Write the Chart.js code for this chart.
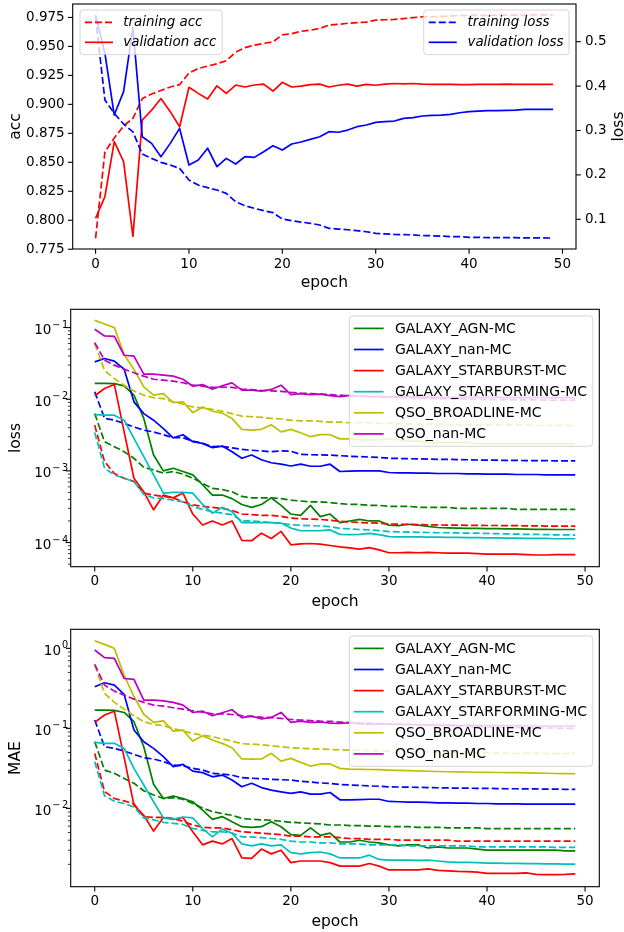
<!DOCTYPE html>
<html>
<head>
<meta charset="utf-8">
<title>Training curves</title>
<script src="https://cdn.jsdelivr.net/npm/chart.js@4.4.1/dist/chart.umd.min.js"></script>
<style>
  html, body { margin: 0; padding: 0; background: #fff; }
  #wrap { position: relative; width: 624px; height: 932px; }
  canvas { position: absolute; left: 0; }
</style>
</head>
<body>
<div id="wrap">
  <canvas id="accPlot" width="624" height="300" style="top:0px"></canvas>
  <canvas id="lossPlot" width="624" height="320" style="top:300px"></canvas>
  <canvas id="maePlot" width="624" height="312" style="top:620px"></canvas>
</div>
<script>
// ---- data -------------------------------------------------------------
const epochs = [0, 1, 2, 3, 4, 5, 6, 7, 8, 9, 10, 11, 12, 13, 14, 15, 16, 17, 18, 19,
  20, 21, 22, 23, 24, 25, 26, 27, 28, 29, 30, 31, 32, 33, 34, 35, 36, 37, 38, 39,
  40, 41, 42, 43, 44, 45, 46, 47, 48, 49];

const epochTicks = [0, 10, 20, 30, 40, 50];
const accTicks = [0.775, 0.8, 0.825, 0.85, 0.875, 0.9, 0.925, 0.95, 0.975];
const lossTicks = [0.1, 0.2, 0.3, 0.4, 0.5];
const lossLogTicks = [1e-4, 1e-3, 1e-2, 1e-1];
const maeLogTicks = [1e-2, 1e-1, 1];

// overall accuracy / loss
const trainAcc = [0.7845, 0.859, 0.871, 0.8813, 0.888, 0.905, 0.909, 0.912, 0.915, 0.917, 0.927, 0.931, 0.933, 0.935, 0.9377, 0.945, 0.949, 0.951, 0.9526, 0.954, 0.960, 0.961, 0.963, 0.964, 0.9655, 0.9684, 0.969, 0.970, 0.9705, 0.971, 0.9727, 0.973, 0.9733, 0.974, 0.9748, 0.9756, 0.9756, 0.976, 0.9763, 0.9765, 0.9767, 0.9767, 0.9768, 0.9769, 0.977, 0.977, 0.9771, 0.9772, 0.9772, 0.9773];
const valAcc = [0.8017, 0.8204, 0.8678, 0.8506, 0.786, 0.8865, 0.895, 0.905, 0.8937, 0.8807, 0.9147, 0.9095, 0.9046, 0.916, 0.9095, 0.9167, 0.915, 0.9167, 0.9175, 0.9115, 0.919, 0.915, 0.9158, 0.917, 0.9175, 0.915, 0.9165, 0.9175, 0.9158, 0.9172, 0.9165, 0.9175, 0.918, 0.9177, 0.918, 0.9175, 0.9172, 0.9172, 0.9172, 0.917, 0.917, 0.9172, 0.9172, 0.9172, 0.9174, 0.9172, 0.9172, 0.9172, 0.9172, 0.9172];
const trainLoss = [0.555, 0.3686, 0.3386, 0.3146, 0.297, 0.247, 0.2372, 0.2282, 0.2222, 0.2147, 0.1884, 0.177, 0.1712, 0.166, 0.1584, 0.1396, 0.1306, 0.1246, 0.1194, 0.1149, 0.1006, 0.0968, 0.0938, 0.091, 0.0871, 0.0796, 0.078, 0.0765, 0.0743, 0.072, 0.0683, 0.067, 0.066, 0.0655, 0.065, 0.063, 0.063, 0.0622, 0.061, 0.061, 0.0593, 0.0593, 0.0588, 0.0588, 0.0585, 0.0585, 0.058, 0.058, 0.058, 0.0578];
const valLoss = [0.56, 0.4737, 0.3348, 0.3874, 0.5323, 0.286, 0.271, 0.241, 0.271, 0.3048, 0.2222, 0.2335, 0.26, 0.2185, 0.2372, 0.2245, 0.241, 0.2395, 0.2523, 0.2658, 0.256, 0.2695, 0.274, 0.28, 0.286, 0.2973, 0.296, 0.301, 0.3086, 0.3123, 0.3183, 0.3198, 0.3213, 0.3273, 0.3288, 0.3326, 0.334, 0.3348, 0.3363, 0.34, 0.3423, 0.3438, 0.3446, 0.3446, 0.3453, 0.3461, 0.3476, 0.3476, 0.3476, 0.3476];

const classNames = ['GALAXY_AGN-MC', 'GALAXY_nan-MC', 'GALAXY_STARBURST-MC',
  'GALAXY_STARFORMING-MC', 'QSO_BROADLINE-MC', 'QSO_nan-MC'];

// per-class loss (val = solid, train = dashed)
const lossAgnVal = [0.0166, 0.0166, 0.0165, 0.0154, 0.0114, 0.0054, 0.00167, 0.00100, 0.00109, 0.00098, 0.00088, 0.00064, 0.00046, 0.00046, 0.00041, 0.00034, 0.00031, 0.00034, 0.00042, 0.00033, 0.00025, 0.00024, 0.00033, 0.00023, 0.00025, 0.00019, 0.00020, 0.00021, 0.00020, 0.00020, 0.000175, 0.000172, 0.00018, 0.000175, 0.000168, 0.000162, 0.00016, 0.000159, 0.000158, 0.000158, 0.000156, 0.000156, 0.000155, 0.000155, 0.000154, 0.000153, 0.000153, 0.000152, 0.000152, 0.000152];
const lossAgnTrain = [0.0063, 0.00255, 0.00218, 0.00185, 0.0015, 0.00112, 0.00103, 0.00093, 0.00098, 0.0009, 0.00079, 0.00067, 0.00057, 0.00055, 0.00051, 0.00044, 0.00042, 0.00042, 0.00042, 0.00041, 0.00039, 0.00038, 0.00037, 0.00037, 0.00036, 0.00035, 0.00034, 0.00034, 0.00033, 0.00033, 0.00032, 0.00032, 0.00032, 0.00031, 0.00031, 0.00031, 0.00031, 0.00030, 0.00030, 0.00030, 0.00030, 0.00030, 0.00030, 0.00029, 0.00029, 0.00029, 0.00029, 0.00029, 0.00029, 0.00029];
const lossNanVal = [0.0332, 0.037, 0.034, 0.0262, 0.0092, 0.0063, 0.0051, 0.0039, 0.0029, 0.0032, 0.00255, 0.00242, 0.00211, 0.00222, 0.00185, 0.0015, 0.00167, 0.00143, 0.0013, 0.00124, 0.00117, 0.00124, 0.00116, 0.00116, 0.00124, 0.00098, 0.00099, 0.001, 0.001, 0.001, 0.00095, 0.00094, 0.00094, 0.00093, 0.00093, 0.00092, 0.00092, 0.00092, 0.00091, 0.00091, 0.0009, 0.0009, 0.0009, 0.00089, 0.00089, 0.00089, 0.00088, 0.00088, 0.00088, 0.00088];
const lossNanTrain = [0.0127, 0.0054, 0.0051, 0.0046, 0.0041, 0.0037, 0.0035, 0.0032, 0.0029, 0.0029, 0.00261, 0.00242, 0.00218, 0.0022, 0.0021, 0.0020, 0.00194, 0.0019, 0.00185, 0.0019, 0.00188, 0.0017, 0.00168, 0.00167, 0.00166, 0.00163, 0.00160, 0.00158, 0.00156, 0.00154, 0.00150, 0.00149, 0.00148, 0.00147, 0.00146, 0.00145, 0.00145, 0.00144, 0.00143, 0.00142, 0.00141, 0.00141, 0.0014, 0.0014, 0.00139, 0.00139, 0.00139, 0.00138, 0.00138, 0.00138];
const lossBurstVal = [0.0112, 0.0141, 0.0161, 0.0035, 0.00079, 0.00051, 0.000286, 0.00046, 0.00042, 0.00049, 0.00025, 0.000176, 0.0002, 0.000176, 0.0002, 0.000107, 0.000106, 0.000135, 0.000114, 0.000143, 0.000093, 0.000096, 0.000097, 0.000095, 0.000091, 0.000087, 0.000084, 0.000081, 0.000085, 0.000079, 0.000072, 0.000072, 0.000073, 0.000072, 0.000073, 0.000072, 0.000071, 0.000071, 0.000071, 0.00007, 0.000069, 0.000069, 0.000069, 0.000069, 0.000068, 0.000067, 0.000067, 0.000068, 0.000068, 0.000068];
const lossBurstTrain = [0.00435, 0.00135, 0.00092, 0.00079, 0.00071, 0.00049, 0.00046, 0.00044, 0.00042, 0.00037, 0.000335, 0.00032, 0.00031, 0.0003, 0.00028, 0.00025, 0.000245, 0.00024, 0.00024, 0.000232, 0.000219, 0.000215, 0.000212, 0.00021, 0.000205, 0.000198, 0.000194, 0.00019, 0.000188, 0.000186, 0.000182, 0.00018, 0.000179, 0.000178, 0.000177, 0.000176, 0.000175, 0.000175, 0.000174, 0.000174, 0.000173, 0.000173, 0.000172, 0.000172, 0.000171, 0.000171, 0.00017, 0.00017, 0.00017, 0.00017];
const lossFormVal = [0.0061, 0.006, 0.006, 0.0051, 0.00284, 0.00158, 0.00088, 0.00049, 0.0005, 0.0005, 0.00049, 0.00034, 0.000257, 0.00031, 0.00027, 0.00019, 0.00019, 0.00019, 0.00019, 0.000187, 0.000159, 0.000146, 0.000146, 0.000147, 0.00015, 0.00013, 0.000129, 0.00013, 0.000134, 0.000129, 0.000121, 0.00012, 0.00012, 0.00012, 0.000119, 0.000119, 0.000118, 0.000118, 0.000117, 0.000117, 0.000116, 0.000116, 0.000115, 0.000115, 0.000114, 0.000114, 0.000114, 0.000113, 0.000113, 0.000113];
const lossFormTrain = [0.00344, 0.00109, 0.00088, 0.00079, 0.00071, 0.00047, 0.00042, 0.00041, 0.00039, 0.00037, 0.00032, 0.00029, 0.00027, 0.000257, 0.000245, 0.0002, 0.0002, 0.000195, 0.00019, 0.000185, 0.000177, 0.000174, 0.000172, 0.00017, 0.000167, 0.000158, 0.000155, 0.000152, 0.00015, 0.000147, 0.000142, 0.000141, 0.00014, 0.000139, 0.000138, 0.000137, 0.000137, 0.000136, 0.000135, 0.000135, 0.000134, 0.000133, 0.000132, 0.000131, 0.00013, 0.00013, 0.000129, 0.000128, 0.000128, 0.000127];
const lossBroadVal = [0.126, 0.112, 0.1, 0.042, 0.026, 0.0149, 0.0114, 0.012, 0.009, 0.0092, 0.0065, 0.0078, 0.0068, 0.0064, 0.0054, 0.0038, 0.0037, 0.0038, 0.0044, 0.0035, 0.0038, 0.0034, 0.0030, 0.0032, 0.0032, 0.0028, 0.0028, 0.0027, 0.0027, 0.0027, 0.0028, 0.0027, 0.0026, 0.0026, 0.0025, 0.0025, 0.0025, 0.0025, 0.0025, 0.0024, 0.0024, 0.0024, 0.0024, 0.0024, 0.0024, 0.0024, 0.0024, 0.0024, 0.0024, 0.0024];
const lossBroadTrain = [0.0598, 0.0254, 0.0194, 0.0157, 0.013, 0.0114, 0.0105, 0.0102, 0.0092, 0.0085, 0.0078, 0.0076, 0.0072, 0.0068, 0.0063, 0.0058, 0.0057, 0.0056, 0.0054, 0.0053, 0.0051, 0.0050, 0.0050, 0.0049, 0.0048, 0.0048, 0.0047, 0.0047, 0.0047, 0.0046, 0.0046, 0.0046, 0.0045, 0.0045, 0.0045, 0.0045, 0.0044, 0.0044, 0.0044, 0.0044, 0.0044, 0.0044, 0.0044, 0.0044, 0.0044, 0.0043, 0.0043, 0.0043, 0.0043, 0.0043];
const lossQsoVal = [0.0947, 0.0764, 0.0755, 0.0411, 0.040, 0.0224, 0.0224, 0.0217, 0.021, 0.019, 0.0152, 0.016, 0.0138, 0.0154, 0.0169, 0.0134, 0.0134, 0.013, 0.0137, 0.0157, 0.0116, 0.012, 0.0116, 0.0118, 0.0112, 0.0109, 0.0113, 0.011, 0.0109, 0.011, 0.0108, 0.0109, 0.0108, 0.0107, 0.0107, 0.0106, 0.0106, 0.0106, 0.0106, 0.0106, 0.0106, 0.0106, 0.0105, 0.0105, 0.0105, 0.0105, 0.0105, 0.0105, 0.0105, 0.0105];
const lossQsoTrain = [0.0617, 0.0351, 0.0299, 0.0263, 0.0234, 0.021, 0.019, 0.0185, 0.0179, 0.017, 0.0157, 0.0152, 0.0146, 0.0148, 0.0146, 0.0139, 0.0136, 0.0133, 0.0131, 0.0129, 0.0125, 0.0122, 0.012, 0.0118, 0.0116, 0.0114, 0.0112, 0.0111, 0.011, 0.0108, 0.0107, 0.0106, 0.0105, 0.0104, 0.0103, 0.0102, 0.0101, 0.0101, 0.01, 0.01, 0.0099, 0.0099, 0.0099, 0.0098, 0.0098, 0.0098, 0.0097, 0.0097, 0.0097, 0.0097];

// per-class MAE
const maeAgnVal = [0.169, 0.169, 0.168, 0.158, 0.121, 0.059, 0.020, 0.0133, 0.0143, 0.0133, 0.0121, 0.0095, 0.0073, 0.0079, 0.0068, 0.0059, 0.0058, 0.0059, 0.0068, 0.0059, 0.0047, 0.0046, 0.0057, 0.0046, 0.0049, 0.0038, 0.0038, 0.0040, 0.0038, 0.0037, 0.0035, 0.0034, 0.0035, 0.0035, 0.0032, 0.0033, 0.0032, 0.0032, 0.0032, 0.0031, 0.0030, 0.0030, 0.0030, 0.0030, 0.0030, 0.0030, 0.0030, 0.0030, 0.00295, 0.00295];
const maeAgnTrain = [0.068, 0.0301, 0.0274, 0.0237, 0.0206, 0.0166, 0.0147, 0.0133, 0.0136, 0.013, 0.0115, 0.0101, 0.0091, 0.0086, 0.0082, 0.0075, 0.0073, 0.0072, 0.0071, 0.0069, 0.0067, 0.0066, 0.0065, 0.0064, 0.0062, 0.0062, 0.0061, 0.0061, 0.0060, 0.0060, 0.0059, 0.0059, 0.0059, 0.0058, 0.0058, 0.0058, 0.0057, 0.0057, 0.0057, 0.0057, 0.0056, 0.0056, 0.0056, 0.0056, 0.0056, 0.0056, 0.0056, 0.0056, 0.0056, 0.0056];
const maeNanVal = [0.331, 0.372, 0.347, 0.266, 0.0953, 0.068, 0.0562, 0.0443, 0.0332, 0.0355, 0.0292, 0.028, 0.0248, 0.0261, 0.0226, 0.0186, 0.0206, 0.0182, 0.0169, 0.0161, 0.0154, 0.0161, 0.0151, 0.0151, 0.0158, 0.0128, 0.0128, 0.0129, 0.013, 0.013, 0.0122, 0.0121, 0.012, 0.012, 0.0119, 0.0117, 0.0117, 0.0116, 0.0116, 0.0115, 0.0115, 0.0114, 0.0114, 0.0114, 0.0113, 0.0113, 0.0113, 0.0113, 0.0113, 0.0113];
const maeNanTrain = [0.127, 0.059, 0.0562, 0.052, 0.0474, 0.043, 0.0414, 0.0384, 0.0348, 0.0341, 0.0316, 0.0302, 0.0274, 0.0268, 0.026, 0.0242, 0.0238, 0.0235, 0.0231, 0.0228, 0.0226, 0.0218, 0.0214, 0.0208, 0.0205, 0.0199, 0.0196, 0.0194, 0.0191, 0.0189, 0.0186, 0.0185, 0.0184, 0.0183, 0.0182, 0.0181, 0.018, 0.0179, 0.0179, 0.0178, 0.0178, 0.0177, 0.0176, 0.0176, 0.0175, 0.0175, 0.0174, 0.0174, 0.0173, 0.0173];
const maeBurstVal = [0.119, 0.147, 0.164, 0.043, 0.011, 0.0082, 0.0052, 0.0077, 0.0073, 0.0077, 0.0051, 0.0035, 0.0039, 0.0036, 0.0042, 0.0024, 0.00237, 0.0031, 0.0027, 0.003, 0.0021, 0.0022, 0.0022, 0.0022, 0.0021, 0.0019, 0.0019, 0.0019, 0.00205, 0.0019, 0.0017, 0.0017, 0.0017, 0.0017, 0.00175, 0.00168, 0.00166, 0.00163, 0.00162, 0.0016, 0.00154, 0.00154, 0.00154, 0.00154, 0.00156, 0.0015, 0.00149, 0.00149, 0.0015, 0.00152];
const maeBurstTrain = [0.0487, 0.0162, 0.0133, 0.0124, 0.0114, 0.0079, 0.0077, 0.0077, 0.0075, 0.0069, 0.0062, 0.0058, 0.0057, 0.0057, 0.0054, 0.0051, 0.005, 0.0049, 0.0048, 0.0047, 0.0045, 0.0045, 0.0044, 0.0044, 0.0044, 0.0043, 0.0042, 0.0042, 0.0041, 0.0041, 0.0041, 0.004, 0.004, 0.004, 0.004, 0.004, 0.004, 0.0039, 0.0039, 0.0039, 0.0039, 0.0039, 0.0039, 0.0039, 0.0039, 0.0039, 0.0039, 0.0039, 0.0039, 0.0039];
const maeFormVal = [0.0668, 0.065, 0.065, 0.0562, 0.0316, 0.0196, 0.0121, 0.0076, 0.0073, 0.0078, 0.0076, 0.0056, 0.0044, 0.0055, 0.0049, 0.0036, 0.0034, 0.0036, 0.0034, 0.0035, 0.0028, 0.0027, 0.0028, 0.00285, 0.0027, 0.0024, 0.0024, 0.0024, 0.0026, 0.0023, 0.00226, 0.00226, 0.00226, 0.00224, 0.00226, 0.0022, 0.00215, 0.00212, 0.00212, 0.0021, 0.00207, 0.00207, 0.00206, 0.00205, 0.00204, 0.00204, 0.00203, 0.00202, 0.00201, 0.00201];
const maeFormTrain = [0.0383, 0.0144, 0.0123, 0.0115, 0.0104, 0.0076, 0.0072, 0.0067, 0.0065, 0.0063, 0.0056, 0.0053, 0.0051, 0.0051, 0.0049, 0.0044, 0.0044, 0.0043, 0.0042, 0.0041, 0.0039, 0.0038, 0.0038, 0.0037, 0.0037, 0.0036, 0.0036, 0.0036, 0.0035, 0.0035, 0.0035, 0.0035, 0.0034, 0.0034, 0.0034, 0.0034, 0.0034, 0.0034, 0.0034, 0.0033, 0.0033, 0.0033, 0.0033, 0.0033, 0.0033, 0.0033, 0.0033, 0.00325, 0.00325, 0.00325];
const maeBroadVal = [1.245, 1.12, 1.0, 0.46, 0.25, 0.15, 0.119, 0.124, 0.0925, 0.095, 0.0694, 0.081, 0.0715, 0.0649, 0.0573, 0.0414, 0.0412, 0.0414, 0.0486, 0.039, 0.0422, 0.0376, 0.0338, 0.0359, 0.0359, 0.0316, 0.031, 0.0308, 0.0306, 0.0305, 0.0301, 0.0298, 0.0296, 0.0294, 0.0291, 0.0289, 0.0287, 0.0286, 0.0285, 0.0283, 0.0282, 0.0281, 0.028, 0.0279, 0.0278, 0.0276, 0.0275, 0.0273, 0.0272, 0.0271];
const maeBroadTrain = [0.618, 0.274, 0.211, 0.174, 0.144, 0.121, 0.112, 0.108, 0.1, 0.0925, 0.0866, 0.082, 0.0786, 0.0738, 0.0694, 0.0643, 0.0635, 0.0625, 0.0607, 0.059, 0.0573, 0.0565, 0.0557, 0.055, 0.0545, 0.054, 0.0535, 0.053, 0.0527, 0.0523, 0.052, 0.0516, 0.0513, 0.051, 0.0507, 0.0505, 0.0502, 0.05, 0.0498, 0.0495, 0.0493, 0.0491, 0.049, 0.0488, 0.0487, 0.0486, 0.0485, 0.0484, 0.0483, 0.0482];
const maeQsoVal = [0.953, 0.764, 0.75, 0.42, 0.41, 0.226, 0.226, 0.22, 0.211, 0.195, 0.158, 0.164, 0.144, 0.157, 0.171, 0.136, 0.142, 0.131, 0.137, 0.158, 0.119, 0.123, 0.119, 0.12, 0.116, 0.115, 0.118, 0.114, 0.113, 0.114, 0.112, 0.112, 0.111, 0.111, 0.11, 0.11, 0.11, 0.109, 0.109, 0.109, 0.108, 0.108, 0.108, 0.108, 0.107, 0.107, 0.107, 0.107, 0.107, 0.107];
const maeQsoTrain = [0.63, 0.347, 0.292, 0.26, 0.232, 0.211, 0.195, 0.19, 0.181, 0.174, 0.166, 0.159, 0.152, 0.152, 0.149, 0.144, 0.141, 0.138, 0.136, 0.133, 0.129, 0.127, 0.125, 0.123, 0.122, 0.12, 0.118, 0.117, 0.116, 0.115, 0.114, 0.113, 0.112, 0.111, 0.11, 0.109, 0.108, 0.107, 0.106, 0.105, 0.104, 0.104, 0.103, 0.103, 0.102, 0.102, 0.101, 0.101, 0.1, 0.1];

const lossVal = [lossAgnVal, lossNanVal, lossBurstVal, lossFormVal, lossBroadVal, lossQsoVal];
const lossTrain = [lossAgnTrain, lossNanTrain, lossBurstTrain, lossFormTrain, lossBroadTrain, lossQsoTrain];
const maeVal = [maeAgnVal, maeNanVal, maeBurstVal, maeFormVal, maeBroadVal, maeQsoVal];
const maeTrain = [maeAgnTrain, maeNanTrain, maeBurstTrain, maeFormTrain, maeBroadTrain, maeQsoTrain];

// ---- styling ------------------------------------------------------------
const classColors = ['#008000', '#0000ff', '#ff0000', '#00bfbf', '#bfbf00', '#bf00bf'];
const FONT = '"DejaVu Sans", sans-serif';
const TICK_SIZE = 13.5;
const TITLE_SIZE = 15.5;
const LINE_W = 1.7;
const DASH = [7, 3];

Chart.defaults.font.family = FONT;
Chart.defaults.color = '#000';

function points(values) {
  return epochs.map((e, i) => ({ x: e, y: values[i] }));
}

function lineSet(label, values, color, dashed, axis) {
  return {
    label: label,
    data: points(values),
    borderColor: color,
    backgroundColor: color,
    borderWidth: LINE_W,
    borderDash: dashed ? DASH : [],
    borderJoinStyle: 'round',
    pointRadius: 0,
    pointHoverRadius: 0,
    tension: 0,
    fill: false,
    yAxisID: axis || 'y'
  };
}

// force every axis box to a fixed thickness so the plot areas line up
function fixSize(size) {
  return function (scale) {
    if (scale.isHorizontal()) scale.height = size; else scale.width = size;
    scale.paddingTop = 0; scale.paddingBottom = 0;
    scale.paddingLeft = 0; scale.paddingRight = 0;
  };
}

function logMinors(majors, min, max) {
  const out = [];
  const decades = [majors[0] / 10].concat(majors);
  decades.forEach(d => {
    for (let k = 2; k <= 9; k++) {
      const v = d * k;
      if (v >= min && v <= max) out.push(v);
    }
  });
  return out;
}

function setTicks(majors, minors) {
  return function (scale) {
    const list = majors.map(v => ({ value: v, major: true }));
    (minors || []).forEach(v => list.push({ value: v, major: false }));
    list.sort((a, b) => a.value - b.value);
    scale.ticks = list;
  };
}

const hiddenGrid = { display: true, drawOnChartArea: false, drawTicks: true, tickLength: 5, tickColor: 'rgba(0,0,0,0)' };

function epochAxis(height) {
  return {
    type: 'linear', bounds: 'data', min: -2.45, max: 51.45,
    afterBuildTicks: setTicks(epochTicks),
    afterFit: fixSize(height),
    grid: hiddenGrid, border: { display: false },
    ticks: { font: { size: TICK_SIZE }, color: '#000', autoSkip: false, maxRotation: 0, padding: 2,
      callback: v => String(v) }
  };
}

function logAxis(majors, min, max) {
  return {
    type: 'logarithmic', position: 'left', bounds: 'data', min: min, max: max,
    afterBuildTicks: setTicks(majors, logMinors(majors, min, max)),
    afterFit: fixSize(70.7),
    grid: hiddenGrid, border: { display: false },
    ticks: { display: false }
  };
}

// frame, tick marks, power-of-ten labels and axis titles
const axisDecor = {
  id: 'axisDecor',
  afterDraw(chart, args, opts) {
    const ctx = chart.ctx;
    const a = chart.chartArea;
    ctx.save();
    ctx.strokeStyle = '#000';
    Object.values(chart.scales).forEach(scale => {
      scale.ticks.forEach(t => {
        const p = scale.getPixelForValue(t.value);
        const len = t.major ? 4.8 : 2.8;
        ctx.lineWidth = t.major ? 1.1 : 0.8;
        ctx.beginPath();
        if (scale.isHorizontal()) {
          ctx.moveTo(p, a.bottom); ctx.lineTo(p, a.bottom + len);
        } else if (scale.position === 'left') {
          ctx.moveTo(a.left, p); ctx.lineTo(a.left - len, p);
        } else {
          ctx.moveTo(a.right, p); ctx.lineTo(a.right + len, p);
        }
        ctx.stroke();
      });
    });
    ctx.lineWidth = 1.1;
    ctx.strokeRect(a.left, a.top, a.right - a.left, a.bottom - a.top);

    if (opts.powerAxis) {
      // "10" followed by a raised, smaller exponent
      const scale = chart.scales[opts.powerAxis];
      const supSize = TICK_SIZE * 0.72;
      ctx.fillStyle = '#000';
      ctx.textBaseline = 'alphabetic';
      ctx.textAlign = 'left';
      scale.ticks.filter(t => t.major).forEach(t => {
        const p = scale.getPixelForValue(t.value);
        const exp = Math.round(Math.log10(t.value));
        const digits = String(Math.abs(exp));
        ctx.font = TICK_SIZE + 'px ' + FONT;
        const wb = ctx.measureText('10').width;
        ctx.font = supSize + 'px ' + FONT;
        const wm = exp < 0 ? ctx.measureText('\u2212').width + 1.5 : 0;
        const wd = ctx.measureText(digits).width;
        const right = a.left - 2.5;
        const base = p + 6.5;
        let x = right - wd - wm - 1 - wb;
        ctx.font = TICK_SIZE + 'px ' + FONT;
        ctx.fillText('10', x, base);
        x += wb + 1;
        ctx.font = supSize + 'px ' + FONT;
        if (exp < 0) {
          ctx.fillText('\u2212', x, base - 6.5);
          x += wm;
        }
        ctx.fillText(digits, x, base - 6.5);
      });
    }

    ctx.fillStyle = '#000';
    ctx.font = TITLE_SIZE + 'px ' + FONT;
    ctx.textAlign = 'center';
    ctx.textBaseline = 'alphabetic';
    (opts.titles || []).forEach(t => {
      if (t.side === 'bottom') {
        ctx.fillText(t.text, (a.left + a.right) / 2, t.at);
      } else {
        ctx.save();
        ctx.translate(t.at, (a.top + a.bottom) / 2);
        ctx.rotate(-Math.PI / 2);
        ctx.fillText(t.text, 0, 0);
        ctx.restore();
      }
    });
    ctx.restore();
  }
};

// framed legend boxes placed inside the plot area
const boxLegend = {
  id: 'boxLegend',
  afterDraw(chart, args, opts) {
    const ctx = chart.ctx;
    const a = chart.chartArea;
    (opts.boxes || []).forEach(box => {
      ctx.save();
      ctx.font = (box.italic ? 'italic ' : '') + box.size + 'px ' + FONT;
      const sets = box.items.map(i => chart.data.datasets[i]);
      const textW = Math.max.apply(null, sets.map(d => ctx.measureText(d.label).width));
      const w = box.textX + textW + box.padRight;
      const h = box.rowTop * 2 + box.rowGap * (sets.length - 1);
      const x = box.side === 'left' ? a.left + box.inset : a.right - box.inset - w;
      const y = a.top + box.top;
      ctx.beginPath();
      ctx.roundRect(x, y, w, h, 3);
      ctx.fillStyle = 'rgba(255,255,255,0.8)';
      ctx.fill();
      ctx.strokeStyle = 'rgba(204,204,204,0.8)';
      ctx.lineWidth = 1;
      ctx.stroke();
      sets.forEach((d, k) => {
        const cy = y + box.rowTop + k * box.rowGap;
        ctx.strokeStyle = d.borderColor;
        ctx.lineWidth = d.borderWidth;
        ctx.setLineDash(d.borderDash);
        ctx.beginPath();
        ctx.moveTo(x + box.lineX0, cy);
        ctx.lineTo(x + box.lineX1, cy);
        ctx.stroke();
        ctx.setLineDash([]);
        ctx.fillStyle = '#000';
        ctx.textAlign = 'left';
        ctx.textBaseline = 'middle';
        ctx.fillText(d.label, x + box.textX, cy + 0.5);
      });
      ctx.restore();
    });
  }
};

function withOrder(sets) {
  // first dataset ends up at the bottom of the stack
  sets.forEach((d, i) => { d.order = sets.length - i; });
  return sets;
}

// ---- accuracy / loss ----------------------------------------------------
new Chart(document.getElementById('accPlot'), {
  type: 'line',
  data: {
    datasets: withOrder([
      lineSet('training acc', trainAcc, '#ff0000', true, 'y'),
      lineSet('validation acc', valAcc, '#ff0000', false, 'y'),
      lineSet('training loss', trainLoss, '#0000ff', true, 'y2'),
      lineSet('validation loss', valLoss, '#0000ff', false, 'y2')
    ])
  },
  options: {
    responsive: false, animation: false, events: [],
    layout: { padding: { top: 4, left: 0, right: 0, bottom: 0 } },
    scales: {
      x: epochAxis(51),
      y: {
        type: 'linear', position: 'left', bounds: 'data', min: 0.7752, max: 0.9866,
        afterBuildTicks: setTicks(accTicks),
        afterFit: fixSize(72.7),
        grid: hiddenGrid, border: { display: false },
        ticks: { font: { size: TICK_SIZE }, color: '#000', autoSkip: false, padding: 3,
          callback: v => v.toFixed(3) }
      },
      y2: {
        type: 'linear', position: 'right', bounds: 'data', min: 0.0331, max: 0.5849,
        afterBuildTicks: setTicks(lossTicks),
        afterFit: fixSize(48),
        grid: hiddenGrid, border: { display: false },
        ticks: { font: { size: TICK_SIZE }, color: '#000', autoSkip: false, padding: 4,
          callback: v => v.toFixed(1) }
      }
    },
    plugins: {
      legend: { display: false },
      tooltip: { enabled: false },
      axisDecor: {
        titles: [
          { side: 'bottom', text: 'epoch', at: 287 },
          { side: 'left', text: 'acc', at: 20 },
          { side: 'right', text: 'loss', at: 622.7 }
        ]
      },
      boxLegend: {
        boxes: [
          { side: 'left', inset: 7.3, top: 6, items: [0, 1], italic: true, size: 13.4,
            rowTop: 12.3, rowGap: 20, lineX0: 5, lineX1: 33, textX: 43.3, padRight: 5.8 },
          { side: 'right', inset: 7, top: 6, items: [2, 3], italic: true, size: 13.4,
            rowTop: 12.3, rowGap: 20, lineX0: 5, lineX1: 33, textX: 43.7, padRight: 5.5 }
        ]
      }
    }
  },
  plugins: [axisDecor, boxLegend]
});

// ---- per-class panels -----------------------------------------------------
function classSets(valSeries, trainSeries) {
  const sets = [];
  classNames.forEach((name, i) => {
    sets.push(lineSet(name, valSeries[i], classColors[i], false));
    sets.push(lineSet(name + ' (train)', trainSeries[i], classColors[i], true));
  });
  return withOrder(sets);
}

function classPanel(canvasId, valSeries, trainSeries, majors, min, max, xHeight, yTitle, xTitleAt) {
  return new Chart(document.getElementById(canvasId), {
    type: 'line',
    data: { datasets: classSets(valSeries, trainSeries) },
    options: {
      responsive: false, animation: false, events: [],
      layout: { padding: { top: 9.3, left: 0, right: 24.7, bottom: 0 } },
      scales: {
        x: epochAxis(xHeight),
        y: logAxis(majors, min, max)
      },
      plugins: {
        legend: { display: false },
        tooltip: { enabled: false },
        axisDecor: {
          powerAxis: 'y',
          titles: [
            { side: 'bottom', text: 'epoch', at: xTitleAt },
            { side: 'left', text: yTitle, at: 20 }
          ]
        },
        boxLegend: {
          boxes: [
            { side: 'right', inset: 6.6, top: 6.7, items: [0, 2, 4, 6, 8, 10], size: 14,
              rowTop: 12.4, rowGap: 21.1, lineX0: 4.5, lineX1: 34.3, textX: 45.6, padRight: 5.6 }
          ]
        }
      }
    },
    plugins: [axisDecor, boxLegend]
  });
}

classPanel('lossPlot', lossVal, lossTrain, lossLogTicks, 4.6e-5, 0.18, 53.3, 'loss', 306);
classPanel('maePlot', maeVal, maeTrain, maeLogTicks, 1.05e-3, 1.73, 45.3, 'MAE', 305.5);
</script>
</body>
</html>
